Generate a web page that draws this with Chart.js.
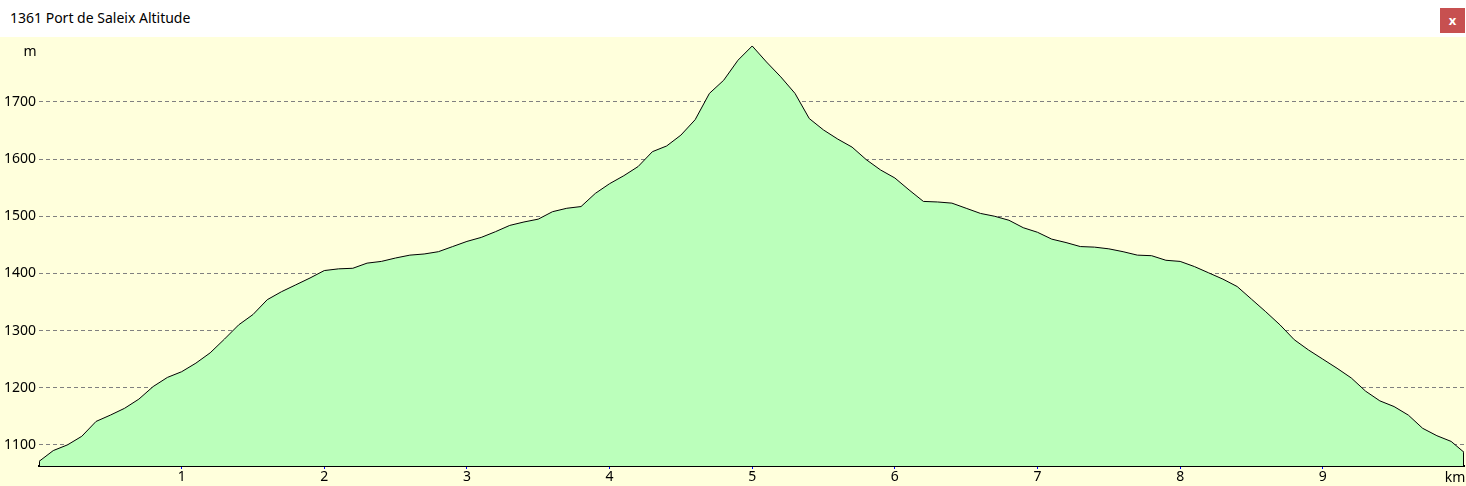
<!DOCTYPE html>
<html>
<head>
<meta charset="utf-8">
<title>1361 Port de Saleix Altitude</title>
<script src="https://cdn.jsdelivr.net/npm/chart.js@4.4.1/dist/chart.umd.min.js"></script>
<style>
    html, body { margin: 0; padding: 0; background: #ffffff; overflow: hidden; }
    #titlebar {
        position: absolute; left: 0; top: 0; width: 1466px; height: 37px;
        background: #ffffff; font-family: 'Noto Sans', sans-serif; font-size: 14px; color: #000;
    }
    #titlebar .caption { position: absolute; left: 10px; top: 8px; }
    #titlebar .close {
        position: absolute; left: 1440px; top: 8px; width: 25px; height: 25px;
        background: #c75050; color: #fff; font-size: 13px; font-weight: bold;
        text-align: center; line-height: 24px;
    }
    #wrap { position: absolute; left: 0; top: 37px; width: 1466px; height: 449px; background: #ffffdc; }
    /* canvas starts a little higher: Chart.js reserves half a label height above the plot */
    #profile { position: absolute; left: 0; top: 26px; }
</style>
</head>
<body>
<div id="titlebar"><span class="caption">1361 Port de Saleix Altitude</span><span class="close">x</span></div>
<div id="wrap"></div>
<canvas id="profile" width="1466" height="460"></canvas>
<script>
// distance along the route (km) and altitude (m)
const distanceKm = [
    0.0, 0.1, 0.2, 0.3, 0.4, 0.5, 0.6, 0.7, 0.8, 0.9,
    1.0, 1.1, 1.2, 1.3, 1.4, 1.5, 1.6, 1.7, 1.8, 1.9,
    2.0, 2.1, 2.2, 2.3, 2.4, 2.5, 2.6, 2.7, 2.8, 2.9,
    3.0, 3.1, 3.2, 3.3, 3.4, 3.5, 3.6, 3.7, 3.8, 3.9,
    4.0, 4.1, 4.2, 4.3, 4.4, 4.5, 4.6, 4.7, 4.8, 4.9,
    5.0, 5.1, 5.2, 5.3, 5.4, 5.5, 5.6, 5.7, 5.8, 5.9,
    6.0, 6.1, 6.2, 6.3, 6.4, 6.5, 6.6, 6.7, 6.8, 6.9,
    7.0, 7.1, 7.2, 7.3, 7.4, 7.5, 7.6, 7.7, 7.8, 7.9,
    8.0, 8.1, 8.2, 8.3, 8.4, 8.5, 8.6, 8.7, 8.8, 8.9,
    9.0, 9.1, 9.2, 9.3, 9.4, 9.5, 9.6, 9.7, 9.8, 9.9, 9.99
];
const altitudeM = [
    1071, 1090, 1100, 1115, 1141, 1152, 1164, 1180, 1202, 1218,
    1228, 1243, 1261, 1285, 1310, 1328, 1354, 1368, 1380, 1392,
    1405, 1408, 1409, 1418, 1421, 1427, 1432, 1434, 1438, 1447,
    1456, 1463, 1473, 1484, 1490, 1495, 1508, 1514, 1517, 1540,
    1557, 1571, 1587, 1613, 1623, 1642, 1669, 1715, 1738, 1773,
    1798, 1770, 1744, 1715, 1671, 1651, 1635, 1621, 1599, 1581,
    1567, 1546, 1526, 1525, 1523, 1514, 1505, 1500, 1493, 1480,
    1472, 1460, 1454, 1447, 1446, 1443, 1438, 1432, 1431, 1423,
    1421, 1412, 1401, 1390, 1377, 1355, 1333, 1310, 1284, 1266,
    1250, 1234, 1217, 1194, 1177, 1167, 1152, 1129, 1116, 1106, 1087
];
const yTicks = [1100, 1200, 1300, 1400, 1500, 1600, 1700];
const xTicks = [1, 2, 3, 4, 5, 6, 7, 8, 9];
const yRange = [1063, 1813];
const xRange = [0, 9.99];

const FONT = { family: 'Noto Sans', size: 14 };

// closes the outline at both ends and writes the unit labels
const profileFrame = {
    id: 'profileFrame',
    afterDatasetsDraw(chart) {
        const { ctx, chartArea, scales } = chart;
        const x = scales.x, y = scales.y;
        const first = 0, last = distanceKm.length - 1;
        ctx.save();
        ctx.strokeStyle = '#000';
        ctx.lineWidth = 1;
        ctx.beginPath();
        ctx.moveTo(x.getPixelForValue(distanceKm[first]) + 0.5, y.getPixelForValue(altitudeM[first]));
        ctx.lineTo(x.getPixelForValue(distanceKm[first]) + 0.5, chartArea.bottom);
        ctx.moveTo(x.getPixelForValue(distanceKm[last]) - 0.5, y.getPixelForValue(altitudeM[last]));
        ctx.lineTo(x.getPixelForValue(distanceKm[last]) - 0.5, chartArea.bottom);
        ctx.stroke();
        ctx.fillStyle = '#000';
        ctx.font = FONT.size + 'px ' + FONT.family;
        ctx.textBaseline = 'middle';
        ctx.textAlign = 'center';
        ctx.fillText('m', chartArea.left - 9, chartArea.top + 15);
        ctx.fillText('km', chartArea.right - 9, chartArea.bottom + 12);
        ctx.restore();
    }
};

new Chart(document.getElementById('profile'), {
    type: 'line',
    data: {
        datasets: [{
            data: distanceKm.map((d, i) => ({ x: d, y: altitudeM[i] })),
            borderColor: '#000000',
            borderWidth: 1,
            backgroundColor: '#bbffbb',
            fill: 'start',
            pointRadius: 0,
            tension: 0
        }]
    },
    options: {
        responsive: false,
        animation: false,
        layout: { padding: { top: 0, right: 2, bottom: 0, left: 0 } },
        plugins: { legend: { display: false }, tooltip: { enabled: false } },
        scales: {
            x: {
                type: 'linear',
                min: xRange[0],
                max: xRange[1],
                afterBuildTicks: s => { s.ticks = xTicks.map(v => ({ value: v })); },
                afterFit: s => { s.height = 20; },
                grid: { drawOnChartArea: false, tickLength: 3, color: '#0000ff' },
                border: { color: '#000000', width: 2 },
                ticks: { color: '#000', font: FONT, padding: 0, maxRotation: 0, callback: v => String(v) }
            },
            y: {
                min: yRange[0],
                max: yRange[1],
                afterBuildTicks: s => { s.ticks = yTicks.map(v => ({ value: v })); },
                afterFit: s => { s.width = 39; },
                grid: { drawTicks: false, color: '#808080', lineWidth: 1 },
                border: { display: false, dash: [4, 3] },
                ticks: { color: '#000', font: FONT, padding: 3, callback: v => String(v) }
            }
        }
    },
    plugins: [profileFrame]
});
</script>
</body>
</html>
